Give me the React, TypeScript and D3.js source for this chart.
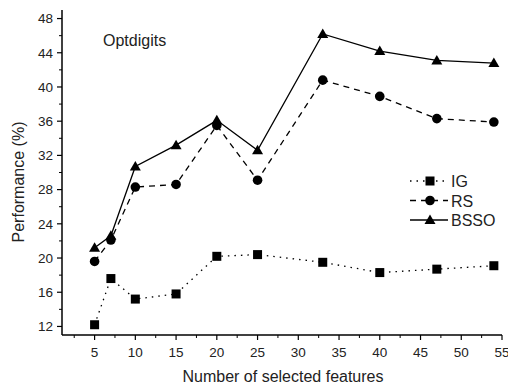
import React from "react";
import * as d3 from "d3";

const xs = [5, 7, 10, 15, 20, 25, 33, 40, 47, 54];
const igValues = [12.2, 17.6, 15.2, 15.8, 20.2, 20.4, 19.5, 18.3, 18.7, 19.1];
const rsValues = [19.6, 22.1, 28.3, 28.6, 35.5, 29.1, 40.8, 38.9, 36.3, 35.9];
const bssoValues = [21.2, 22.6, 30.7, 33.2, 36.1, 32.6, 46.2, 44.2, 43.1, 42.8];
const seriesNames = ["IG", "RS", "BSSO"];
const xTicks = [5, 10, 15, 20, 25, 30, 35, 40, 45, 50, 55];
const yTicks = [12, 16, 20, 24, 28, 32, 36, 40, 44, 48];

const W = 508, H = 387;
const left = 62, right = 502, top = 10, bottom = 335;

export default function App() {
  const x = d3.scaleLinear().domain([1, 55]).range([left, right]);
  const y = d3.scaleLinear().domain([11, 49]).range([bottom, top]);
  const font = "Arial, 'Liberation Sans', sans-serif";
  const line = d3.line<number>().x((_, i) => x(xs[i])).y((d) => y(d));
  const series = [
    { name: seriesNames[0], vals: igValues, dash: "1.5,5", marker: "square" },
    { name: seriesNames[1], vals: rsValues, dash: "6,5", marker: "circle" },
    { name: seriesNames[2], vals: bssoValues, dash: "", marker: "triangle" },
  ];
  const marker = (m: string, cx: number, cy: number, k: string) => {
    if (m === "square") return <rect key={k} x={cx - 4.5} y={cy - 4.5} width={9} height={9} fill="#000" />;
    if (m === "circle") return <circle key={k} cx={cx} cy={cy} r={4.8} fill="#000" />;
    return <path key={k} d={`M${cx},${cy - 5.5}L${cx + 5.5},${cy + 4}L${cx - 5.5},${cy + 4}Z`} fill="#000" />;
  };
  const minorX = d3.range(2.5, 55, 5);
  const minorY = d3.range(14, 49, 4);
  return (
    <svg width={W} height={H} style={{ position: "absolute", left: 0, top: 0 }}>
      <rect width={W} height={H} fill="#fff" />
      <line x1={left} x2={left} y1={top} y2={bottom} stroke="#000" strokeWidth={1.5} />
      <line x1={left} x2={right} y1={bottom} y2={bottom} stroke="#000" strokeWidth={1.5} />
      {yTicks.map((t) => (
        <g key={"y" + t}>
          <line x1={left - 5} x2={left} y1={y(t)} y2={y(t)} stroke="#000" strokeWidth={1.2} />
          <text x={left - 9} y={y(t)} dy="0.36em" textAnchor="end" fontSize={13.5} fontFamily={font} fill="#222">{t}</text>
        </g>
      ))}
      {minorY.map((t) => (
        <line key={"my" + t} x1={left - 3} x2={left} y1={y(t)} y2={y(t)} stroke="#000" strokeWidth={1} />
      ))}
      {xTicks.map((t) => (
        <g key={"x" + t}>
          <line x1={x(t)} x2={x(t)} y1={bottom} y2={bottom + 5} stroke="#000" strokeWidth={1.2} />
          <text x={x(t)} y={bottom + 22} textAnchor="middle" fontSize={13.5} fontFamily={font} fill="#222">{t}</text>
        </g>
      ))}
      {minorX.map((t) => (
        <line key={"mx" + t} x1={x(t)} x2={x(t)} y1={bottom} y2={bottom + 3} stroke="#000" strokeWidth={1} />
      ))}
      <text x={283} y={382} textAnchor="middle" fontSize={16} fontFamily={font} fill="#222">Number of selected features</text>
      <text transform={`translate(24,182) rotate(-90)`} textAnchor="middle" fontSize={16} fontFamily={font} fill="#222">Performance (%)</text>
      <text x={103} y={46} fontSize={16} fontFamily={font} fill="#222">Optdigits</text>
      {series.map((s) => (
        <g key={s.name}>
          <path d={line(s.vals) || ""} fill="none" stroke="#000" strokeWidth={1.3} strokeDasharray={s.dash || undefined} />
          {s.vals.map((v, i) => marker(s.marker, x(xs[i]), y(v), s.name + i))}
        </g>
      ))}
      {series.map((s, i) => {
        const ly = 181 + i * 19.5;
        return (
          <g key={"lg" + s.name}>
            <line x1={410} x2={448} y1={ly} y2={ly} stroke="#000" strokeWidth={1.3} strokeDasharray={s.dash || undefined} />
            {marker(s.marker, 430, ly, "lm" + i)}
            <text x={451} y={ly} dy="0.38em" fontSize={16} fontFamily={font} fill="#222">{s.name}</text>
          </g>
        );
      })}
    </svg>
  );
}
